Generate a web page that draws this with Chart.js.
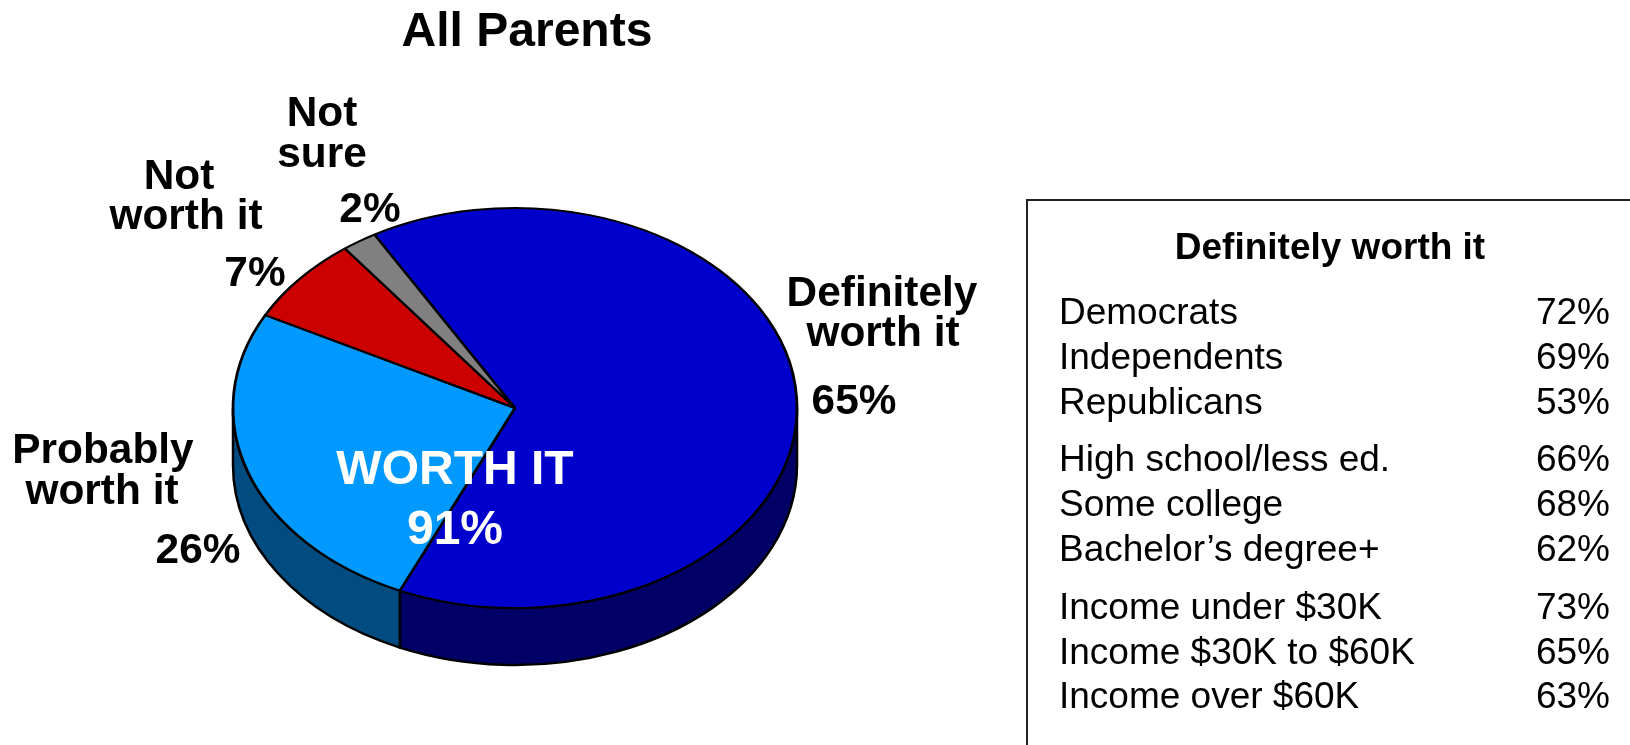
<!DOCTYPE html>
<html>
<head>
<meta charset="utf-8">
<title>All Parents</title>
<script src="https://cdn.jsdelivr.net/npm/chart.js@4/dist/chart.umd.min.js"></script>
<style>
    html, body { margin: 0; padding: 0; background: #fff; overflow: hidden; }
    body { width: 1630px; height: 745px; position: relative; font-family: "Liberation Sans", Arial, sans-serif; color: #000; }
    canvas { position: absolute; left: 0; top: 0; }
    #title { position: absolute; left: 227px; width: 600px; top: 2px; text-align: center; font-size: 48px; line-height: 56px; font-weight: bold; }
    #box { position: absolute; left: 1026px; top: 199px; width: 620px; height: 600px; border: 2px solid #222; box-sizing: border-box; }
    .row { position: absolute; left: 1059px; width: 551px; height: 44px; line-height: 44px; font-size: 37px; }
    .row span { position: absolute; right: 0; top: 0; }
    #boxTitle { position: absolute; left: 1030px; width: 600px; top: 225px; text-align: center; font-size: 37px; line-height: 44px; font-weight: bold; }
</style>
</head>
<body>
<canvas id="pieChart" width="1630" height="745"></canvas>
<div id="title">All Parents</div>
<div id="box"></div>
<div id="boxTitle">Definitely worth it</div>
<script>
const categories = ['Definitely worth it', 'Probably worth it', 'Not worth it', 'Not sure'];
const values = [65, 26, 7, 2];
const topColors = ['#0000CC', '#0099FF', '#CC0000', '#808080'];
const sideColors = ['#000066', '#004C80', '#660000', '#404040'];

const groupLabels = ['Democrats', 'Independents', 'Republicans', 'High school/less ed.', 'Some college', 'Bachelor\u2019s degree+', 'Income under $30K', 'Income $30K to $60K', 'Income over $60K'];
const groupValues = [72, 69, 53, 66, 68, 62, 73, 65, 63];
const groupRowTops = [290, 335, 380, 437, 482, 527, 585, 630, 674];

// pie labels, one entry per line of text
const pieLabels = [
    ['Not', 322, 114], ['sure', 322, 155], ['2%', 370, 210],
    ['Not', 179, 177], ['worth it', 186, 217], ['7%', 255, 274],
    ['Definitely', 882, 294], ['worth it', 883, 334], ['65%', 854, 402],
    ['Probably', 103, 451], ['worth it', 102, 492], ['26%', 198, 551]
];
const centerLabels = [['WORTH IT', 455, 471], ['91%', 455, 531]];

const squash = 200 / 282;
const depth = 57;

// table on the right
groupLabels.forEach((label, i) => {
    const row = document.createElement('div');
    row.className = 'row';
    row.style.top = groupRowTops[i] + 'px';
    row.textContent = label;
    const pct = document.createElement('span');
    pct.textContent = groupValues[i] + '%';
    row.appendChild(pct);
    document.body.appendChild(row);
});

const tiltPlugin = {
    id: 'tilt',
    beforeDatasetsDraw(chart) {
        const ctx = chart.ctx;
        const arcs = chart.getDatasetMeta(0).data;
        const cx = arcs[0].x, cy = arcs[0].y, r = arcs[0].outerRadius;
        const ry = r * squash;
        // side wall of the disc, only the front half shows
        arcs.forEach((arc, i) => {
            const a0 = Math.max(arc.startAngle, 0);
            const a1 = Math.min(arc.endAngle, Math.PI);
            if (a1 <= a0) return;
            ctx.beginPath();
            ctx.ellipse(cx, cy, r, ry, 0, a0, a1);
            ctx.ellipse(cx, cy + depth, r, ry, 0, a1, a0, true);
            ctx.closePath();
            ctx.fillStyle = sideColors[i];
            ctx.fill();
            ctx.lineWidth = 2.5;
            ctx.strokeStyle = '#000';
            ctx.stroke();
        });
        ctx.save();
        ctx.translate(cx, cy);
        ctx.scale(1, squash);
        ctx.translate(-cx, -cy);
    },
    afterDatasetsDraw(chart) {
        const ctx = chart.ctx;
        ctx.restore();
        ctx.textAlign = 'center';
        ctx.textBaseline = 'middle';
        ctx.font = 'bold 42.4px "Liberation Sans", Arial, sans-serif';
        ctx.fillStyle = '#000';
        pieLabels.forEach(l => ctx.fillText(l[0], l[1], l[2]));
        ctx.font = 'bold 48px "Liberation Sans", Arial, sans-serif';
        ctx.fillStyle = '#fff';
        centerLabels.forEach(l => ctx.fillText(l[0], l[1], l[2]));
    }
};

new Chart(document.getElementById('pieChart').getContext('2d'), {
    type: 'pie',
    data: {
        labels: categories,
        datasets: [{
            data: values,
            backgroundColor: topColors,
            borderColor: '#000',
            borderWidth: 2.8,
            radius: 282
        }]
    },
    options: {
        responsive: false,
        animation: false,
        rotation: -29.9,
        layout: { padding: { top: 71, right: 600, left: 0, bottom: 0 } },
        plugins: { legend: { display: false }, tooltip: { enabled: false } }
    },
    plugins: [tiltPlugin]
});
</script>
</body>
</html>
